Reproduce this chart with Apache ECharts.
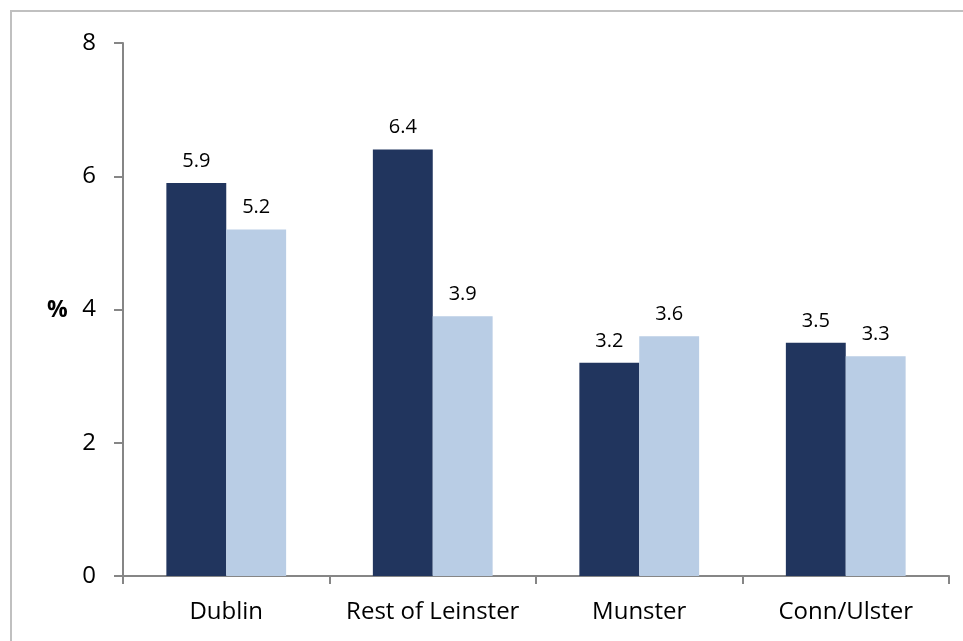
<!DOCTYPE html>
<html>
<head>
<meta charset="utf-8">
<script src="https://cdn.jsdelivr.net/npm/echarts@6/dist/echarts.min.js"></script>
<style>
  html, body { margin: 0; padding: 0; background: #fff; }
  #chart { width: 963px; height: 641px; }
</style>
</head>
<body>
<div id="chart"></div>
<script>
// Regions and the two series of percentages
const regions = ['Dublin', 'Rest of Leinster', 'Munster', 'Conn/Ulster'];
const seriesA = [5.9, 6.4, 3.2, 3.5];
const seriesB = [5.2, 3.9, 3.6, 3.3];
const yTicks = [0, 2, 4, 6, 8];

const font = '"Open Sans", "Liberation Sans", sans-serif';
const chart = echarts.init(document.getElementById('chart'), null, { renderer: 'canvas' });

const labelStyle = {
  show: true,
  position: 'top',
  distance: 12,
  fontFamily: font,
  fontSize: 20,
  color: '#000',
  formatter: p => p.value.toFixed(1)
};

chart.setOption({
  animation: false,
  backgroundColor: '#fff',
  grid: { left: 123, right: 14, top: 43, bottom: 65, containLabel: false },
  graphic: [
    {
      type: 'rect',
      shape: { x: 11, y: 11, width: 1000, height: 700 },
      style: { fill: 'none', stroke: '#c0c0c0', lineWidth: 2 },
      silent: true
    },
    {
      type: 'text',
      x: 47,
      y: 310,
      style: {
        text: '%',
        font: 'bold 23px ' + font,
        fill: '#000',
        textVerticalAlign: 'middle'
      }
    }
  ],
  xAxis: {
    type: 'category',
    data: regions,
    axisLine: { lineStyle: { color: '#868686', width: 2 } },
    axisTick: { show: true, interval: 0, length: 8, lineStyle: { color: '#868686', width: 2 } },
    axisLabel: {
      interval: 0,
      hideOverlap: false,
      color: '#000',
      fontFamily: font,
      fontSize: 24,
      margin: 24
    }
  },
  yAxis: {
    type: 'value',
    min: yTicks[0],
    max: yTicks[yTicks.length - 1],
    interval: yTicks[1] - yTicks[0],
    splitLine: { show: false },
    axisLine: { show: true, lineStyle: { color: '#868686', width: 2 } },
    axisTick: { show: true, length: 9, lineStyle: { color: '#868686', width: 2 } },
    axisLabel: { color: '#000', fontFamily: font, fontSize: 24, margin: 27 }
  },
  series: [
    {
      type: 'bar',
      data: seriesA,
      barGap: '0%',
      barCategoryGap: '42%',
      itemStyle: { color: '#21355e' },
      label: labelStyle
    },
    {
      type: 'bar',
      data: seriesB,
      itemStyle: { color: '#b9cde5' },
      label: labelStyle
    }
  ]
});
</script>
</body>
</html>
